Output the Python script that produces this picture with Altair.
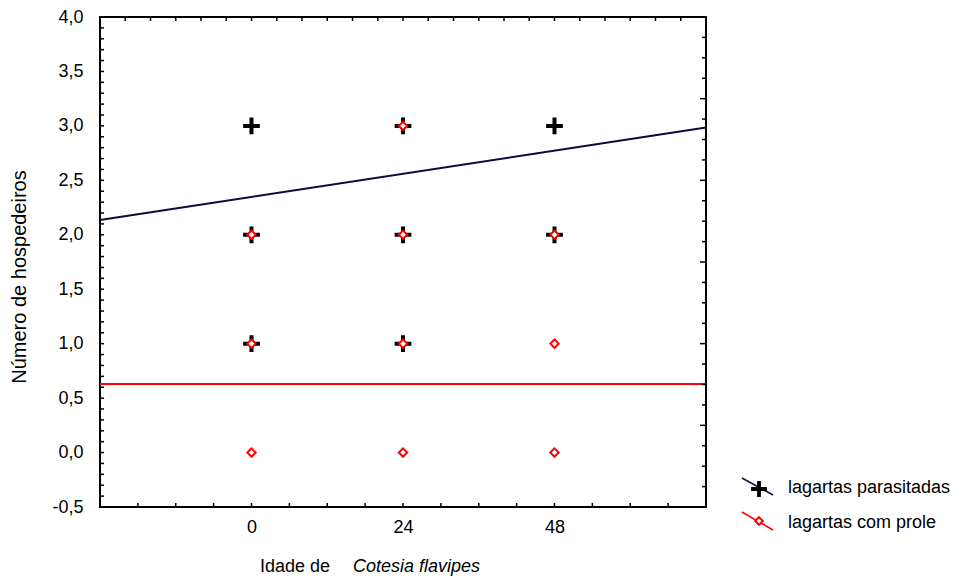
import altair as alt
import numpy as np
import pandas as pd

# ---------------- data ----------------
age_labels = [0, 24, 48]
parasit_x = [0, 0, 0, 24, 24, 24, 48, 48]
parasit_y = [3, 2, 1, 3, 2, 1, 3, 2]
prole_x = [0, 0, 0, 24, 24, 24, 24, 48, 48, 48]
prole_y = [2, 1, 0, 3, 2, 1, 0, 2, 1, 0]
fit_x = [-24, 72]
parasit_fit = [2.136, 2.985]
prole_fit = [0.63, 0.63]
y_labels = [-0.5, 0.0, 0.5, 1.0, 1.5, 2.0, 2.5, 3.0, 3.5, 4.0]

X_DOMAIN = [-24, 72]
Y_DOMAIN = [-0.5, 4.0]
W, H = 606, 490
FONT = "Liberation Sans"
NAVY = "#0b0b40"
RED = "#ff0000"

xs = alt.Scale(domain=X_DOMAIN, nice=False, zero=False)
ys = alt.Scale(domain=Y_DOMAIN, nice=False, zero=False)

parasit_df = pd.DataFrame({"x": parasit_x, "y": parasit_y})
prole_df = pd.DataFrame({"x": prole_x, "y": prole_y})
fit_df = pd.DataFrame({"x": fit_x, "p": parasit_fit, "q": prole_fit})

PLUS = "M-1,-0.24H1V0.24H-1Z M-0.24,-1H0.24V1H-0.24Z"

x_axis = alt.Axis(values=age_labels, ticks=False, tickSize=0, domain=False, grid=False,
                  labelFontSize=18, labelColor="black", labelFont=FONT,
                  labelPadding=11, title=None)
y_axis = alt.Axis(values=y_labels, ticks=False, tickSize=0, domain=False, grid=False,
                  labelFontSize=18, labelColor="black", labelFont=FONT,
                  labelPadding=17, title=None,
                  labelExpr="(datum.value < 0 ? '-' : '') + replace(format(abs(datum.value), '.1f'), '.', ',')")


def X(field):
    return alt.X(field, type="quantitative", scale=xs, axis=x_axis)


def Y(field):
    return alt.Y(field, type="quantitative", scale=ys, axis=y_axis)


plus_pts = alt.Chart(parasit_df).mark_point(
    shape=PLUS, size=280, filled=True, color="black", opacity=1
).encode(x=X("x"), y=Y("y"))

diamond_pts = alt.Chart(prole_df).mark_point(
    shape="diamond", size=70, filled=True, fill="white", stroke=RED, strokeWidth=2, opacity=1
).encode(x=X("x"), y=Y("y"))

navy_line = alt.Chart(fit_df).mark_line(color=NAVY, strokeWidth=2).encode(x=X("x"), y=Y("p"))
red_line = alt.Chart(fit_df).mark_line(color=RED, strokeWidth=2).encode(x=X("x"), y=Y("q"))

# ---- inward ticks on all four sides ----
left_ticks = pd.DataFrame({"v": np.round(np.arange(-0.5, 4.0001, 0.1), 3)})
bottom_ticks = pd.DataFrame({"v": np.arange(-24, 72.01, 6)})
top_ticks = pd.DataFrame({"v": np.arange(-24, 72.01, 4)})
k = np.arange(1, 24)
right_minor = pd.DataFrame({"v": -0.5 + k[k % 4 != 0] * 0.1875})
right_major = pd.DataFrame({"v": -0.5 + k[k % 4 == 0] * 0.1875})

tick_style = dict(color="black", strokeWidth=1.5)
lt = alt.Chart(left_ticks).mark_rule(**tick_style).encode(
    y=Y("v"), x=alt.value(0), x2=alt.value(4))
bt = alt.Chart(bottom_ticks).mark_rule(**tick_style).encode(
    x=X("v"), y=alt.value(H - 4), y2=alt.value(H))
tt = alt.Chart(top_ticks).mark_rule(**tick_style).encode(
    x=X("v"), y=alt.value(0), y2=alt.value(4))
rtm = alt.Chart(right_minor).mark_rule(**tick_style).encode(
    y=Y("v"), x=alt.value(W - 4), x2=alt.value(W))
rtM = alt.Chart(right_major).mark_rule(**tick_style).encode(
    y=Y("v"), x=alt.value(W - 6), x2=alt.value(W))

# ---- titles ----
ytitle = alt.Chart(pd.DataFrame({"t": ["Número de hospedeiros"]})).mark_text(
    angle=270, align="center", baseline="middle", font=FONT, fontSize=20, color="black"
).encode(text="t:N", x=alt.value(-80), y=alt.value(260))

xtitle1 = alt.Chart(pd.DataFrame({"t": ["Idade de"]})).mark_text(
    align="right", baseline="alphabetic", font=FONT, fontSize=18, color="black"
).encode(text="t:N", x=alt.value(230), y=alt.value(555))
xtitle2 = alt.Chart(pd.DataFrame({"t": ["Cotesia flavipes"]})).mark_text(
    align="left", baseline="alphabetic", font=FONT, fontSize=18, fontStyle="italic", color="black"
).encode(text="t:N", x=alt.value(253), y=alt.value(555))

# ---- legend (drawn manually) ----
leg_names = ["lagartas parasitadas", "lagartas com prole"]
leg_line1 = alt.Chart(pd.DataFrame({"a": [0]})).mark_rule(color=NAVY, strokeWidth=1.5).encode(
    x=alt.value(642), y=alt.value(461), x2=alt.value(673), y2=alt.value(478))
leg_line2 = alt.Chart(pd.DataFrame({"a": [0]})).mark_rule(color=RED, strokeWidth=1.5).encode(
    x=alt.value(642), y=alt.value(495), x2=alt.value(673), y2=alt.value(513))
leg_plus = alt.Chart(pd.DataFrame({"a": [0]})).mark_point(
    shape=PLUS, size=250, filled=True, color="black", opacity=1
).encode(x=alt.value(659), y=alt.value(472))
leg_diam = alt.Chart(pd.DataFrame({"a": [0]})).mark_point(
    shape="diamond", size=60, filled=True, fill="white", stroke=RED, strokeWidth=2, opacity=1
).encode(x=alt.value(659), y=alt.value(504))
leg_t1 = alt.Chart(pd.DataFrame({"t": [leg_names[0]]})).mark_text(
    align="left", baseline="alphabetic", font=FONT, fontSize=18, color="black"
).encode(text="t:N", x=alt.value(688), y=alt.value(476))
leg_t2 = alt.Chart(pd.DataFrame({"t": [leg_names[1]]})).mark_text(
    align="left", baseline="alphabetic", font=FONT, fontSize=18, color="black"
).encode(text="t:N", x=alt.value(688), y=alt.value(511))

chart = alt.layer(
    navy_line, red_line, plus_pts, diamond_pts,
    lt, bt, tt, rtm, rtM,
    ytitle, xtitle1, xtitle2,
    leg_line1, leg_line2, leg_plus, leg_diam, leg_t1, leg_t2,
).properties(
    width=W, height=H,
    background="white",
    autosize=alt.AutoSizeParams(type="none"),
    padding={"left": 92, "top": 9, "right": 248, "bottom": 74},
).configure_view(
    stroke="black", strokeWidth=2
)

chart.save("out.html", embed_options={"renderer": "svg", "actions": False})
